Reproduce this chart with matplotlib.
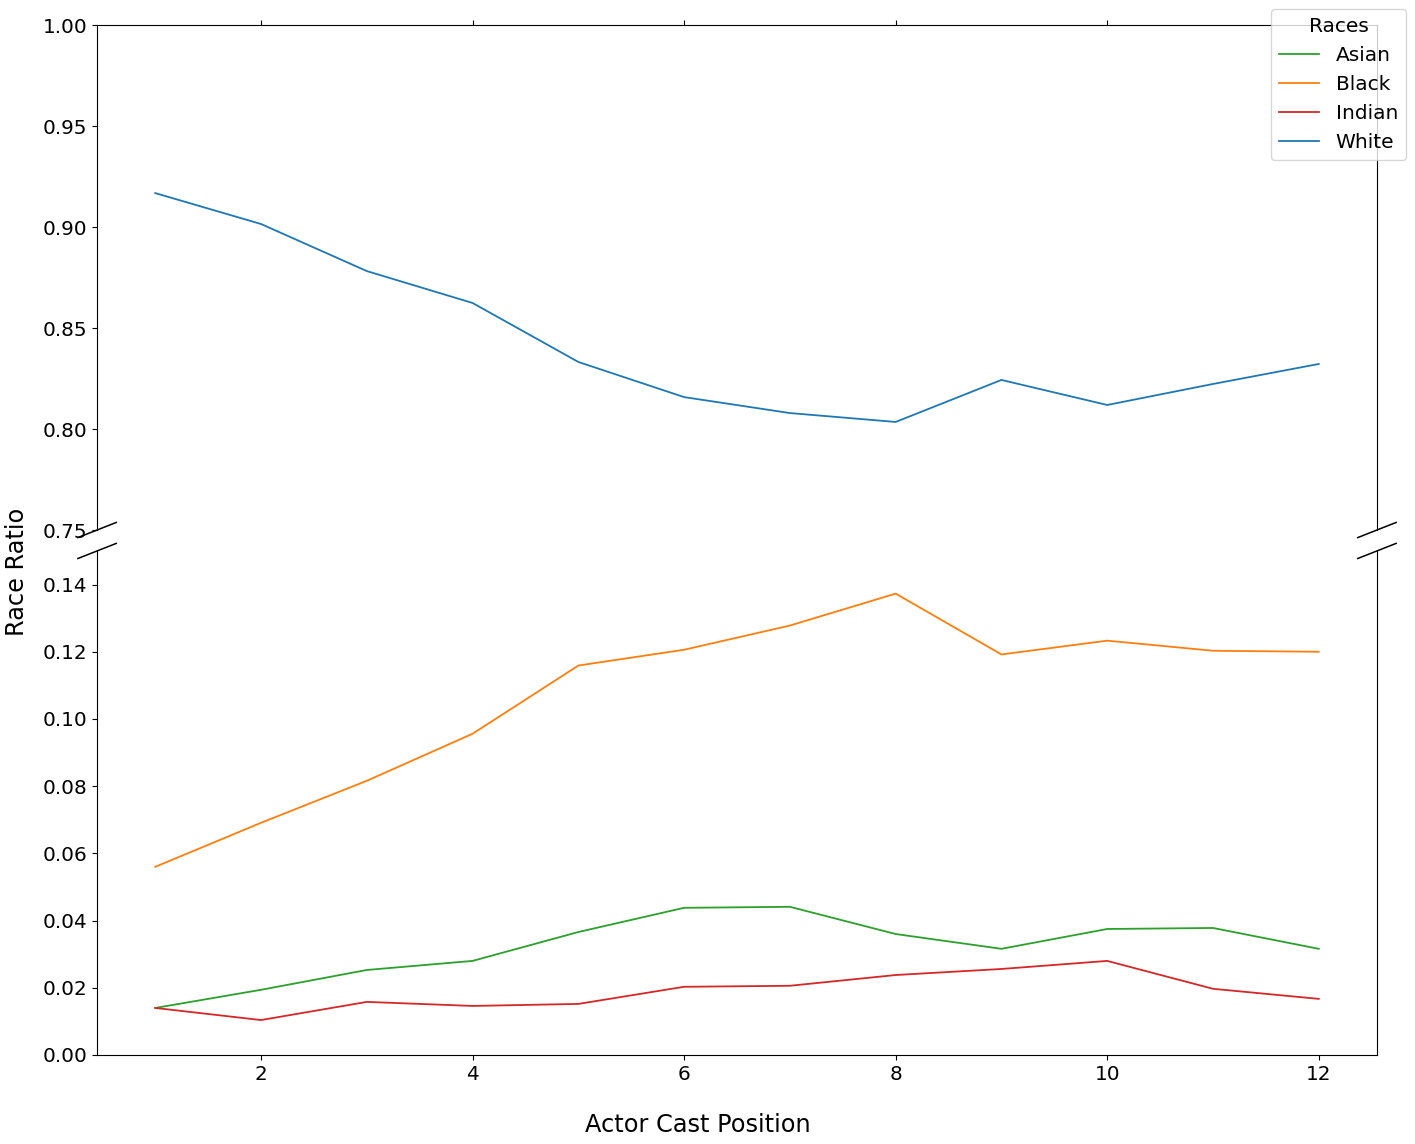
import matplotlib
matplotlib.use("Agg")
import matplotlib.pyplot as plt

positions = [1, 2, 3, 4, 5, 6, 7, 8, 9, 10, 11, 12]
asian = [0.0140, 0.0194, 0.0253, 0.0280, 0.0366, 0.0438, 0.0441, 0.0360, 0.0316, 0.0375, 0.0378, 0.0316]
black = [0.0560, 0.0691, 0.0816, 0.0956, 0.1159, 0.1206, 0.1278, 0.1373, 0.1192, 0.1233, 0.1203, 0.1200]
indian = [0.0140, 0.0104, 0.0158, 0.0146, 0.0152, 0.0203, 0.0206, 0.0238, 0.0256, 0.0280, 0.0197, 0.0167]
white = [0.9168, 0.9015, 0.8782, 0.8624, 0.8332, 0.8158, 0.8079, 0.8035, 0.8243, 0.8119, 0.8223, 0.8322]

races = ["Asian", "Black", "Indian", "White"]
couleurs = ["tab:green", "tab:orange", "tab:red", "tab:blue"]
series = [asian, black, indian, white]

fig = plt.figure(figsize=(14.15, 11.44), dpi=100)
ax_haut = fig.add_axes([0.0686, 0.5367, 0.9045, 0.4414])
ax_bas = fig.add_axes([0.0686, 0.0778, 0.9045, 0.4406], sharex=ax_haut)

# les petites valeurs en bas, White en haut
for nom, c, vals in zip(races, couleurs, series):
    ax_haut.plot(positions, vals, color=c, lw=1.3, label=nom)
    ax_bas.plot(positions, vals, color=c, lw=1.3, label=nom)

ax_haut.set_ylim(0.75, 1.0)
ax_bas.set_ylim(0, 0.15)
ax_bas.set_yticks([0, 0.02, 0.04, 0.06, 0.08, 0.10, 0.12, 0.14])

ax_haut.spines['bottom'].set_visible(False)
ax_bas.spines['top'].set_visible(False)
ax_haut.xaxis.tick_top()
ax_haut.tick_params(labeltop=False)
ax_bas.xaxis.tick_bottom()

for ax in (ax_haut, ax_bas):
    ax.tick_params(labelsize=14.4)

# traits diagonaux de coupure
d = .015
kw = dict(transform=ax_haut.transAxes, color='k', clip_on=False, lw=1.1)
ax_haut.plot((-d, +d), (-d, +d), **kw)
ax_haut.plot((1 - d, 1 + d), (-d, +d), **kw)
kw.update(transform=ax_bas.transAxes)
ax_bas.plot((-d, +d), (1 - d, 1 + d), **kw)
ax_bas.plot((1 - d, 1 + d), (1 - d, 1 + d), **kw)

fig.text(0.493, 0.0166, "Actor Cast Position", ha='center', va='center', fontsize=17.3)
fig.text(0.012, 0.5, "Race Ratio", ha='center', va='center', rotation=90, fontsize=17.3)

handles, labels = ax_haut.get_legend_handles_labels()
fig.legend(handles, labels, title="Races", loc='upper right',
           bbox_to_anchor=(0.9936, 0.9921), borderaxespad=0,
           fontsize=14.5, title_fontsize=14.5)

plt.savefig("out.png", dpi=100)
